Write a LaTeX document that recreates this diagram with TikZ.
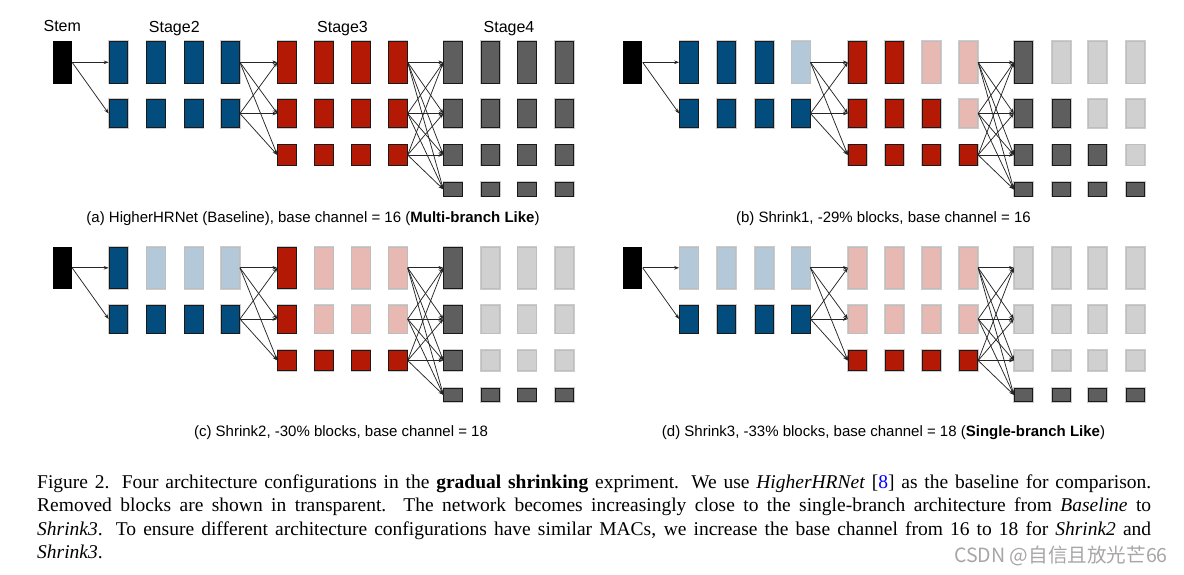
\documentclass[tikz,border=0pt]{standalone}
\usepackage{fontspec}
\setmainfont{Liberation Serif}
\setsansfont{Liberation Sans}
\newfontfamily\cjkfont{Noto Sans CJK SC}
\usetikzlibrary{arrows.meta}
\usetikzlibrary{positioning}
\definecolor{hrblue}{RGB}{2,76,126}
\definecolor{hrbluefade}{RGB}{179,200,217}
\definecolor{hrred}{RGB}{179,25,4}
\definecolor{hrredfade}{RGB}{232,184,179}
\definecolor{hrgray}{RGB}{94,94,94}
\definecolor{hrgrayfade}{RGB}{208,208,208}
\definecolor{edgedark}{RGB}{25,25,25}
\definecolor{edgefade}{RGB}{190,190,190}
\def\RowY{{62.3,113.5,155,189.4}}
\def\RowH{{41.6,28.1,20.4,13.8}}
\def\StageTwoCols{118.3,156,194,230.3}
\def\StageThreeCols{287,324,361,398}
\def\StageFourCols{453,490.7,527,564.7}
% #1 panel, #2 stage, #3 colour, #4 kept blocks per row, #5 columns
\def\DrawStage#1#2#3#4#5{%
  \foreach \nsolid [count=\row] in {#4}{%
    \pgfmathsetmacro\yc{\RowY[\row-1]}%
    \pgfmathsetmacro\hh{\RowH[\row-1]}%
    \foreach \xc [count=\col] in #5{%
      \ifnum\col>\nsolid\relax\def\fc{#3fade}\def\dc{edgefade}\else\def\fc{#3}\def\dc{edgedark}\fi
      \node [blocknode,fill=\fc,draw=\dc,minimum height=\hh] (#1-#2-\row-\col) at (\xc,\yc) {};
    }%
  }%
}
% #1 panel, #2 shift, #3 #4 #5 kept blocks of stage 2, 3, 4
\def\DrawPanel#1#2#3#4#5{%
  \begin{scope}[shift={#2}]
  \node [stemnode] (#1-stem) at (62.3,62.3) {};
  \DrawStage{#1}{2}{hrblue}{#3}{\StageTwoCols}
  \DrawStage{#1}{3}{hrred}{#4}{\StageThreeCols}
  \DrawStage{#1}{4}{hrgray}{#5}{\StageFourCols}
  \foreach \i in {1,2} \draw [link] (#1-stem.east) -- (#1-2-\i-1.west);
  \foreach \i in {1,2} \foreach \j in {1,2,3}
    \draw [link] (#1-2-\i-4.east) -- (#1-3-\j-1.west);
  \foreach \i in {1,2,3} \foreach \j in {1,...,4}
    \draw [link] (#1-3-\i-4.east) -- (#1-4-\j-1.west);
  \end{scope}%
}

\begin{document}
\begin{tikzpicture}
[x=1pt,y=-1pt,
blocknode/.style={rectangle,inner sep=0pt,minimum width=18.4,line width=0.9pt,
preaction={draw=black!20,line width=2.2pt}},
stemnode/.style={rectangle,inner sep=0pt,fill=black,minimum width=19.3,minimum height=42.5},
link/.style={-{Stealth[length=5pt,width=3.6pt]},line width=0.75pt,draw=black!85},
stagelabel/.style={anchor=base,inner sep=0pt,font=\sffamily\fontsize{16}{19}\selectfont},
panelcaption/.style={anchor=base,inner sep=0pt,font=\sffamily\fontsize{15}{18}\selectfont},
figcaption/.style={anchor=north west,inner sep=0pt,text width=1114pt,align=justify,
font=\fontsize{19.5}{23.4}\selectfont},
watermark/.style={anchor=base east,inner sep=0pt,text=black!35,
font=\cjkfont\fontsize{19.6}{22}\selectfont}
]
\useasboundingbox (0,0) rectangle (1184,574);
\DrawPanel{a}{(0,0)}{4,4}{4,4,4}{4,4,4,4}
\DrawPanel{b}{(570.5,0)}{3,4}{2,3,4}{1,2,3,4}
\DrawPanel{c}{(0,205.5)}{1,4}{1,1,4}{1,1,1,4}
\DrawPanel{d}{(570.5,205.5)}{0,4}{0,0,4}{0,0,0,4}
% stage names over panel (a)
\node [stagelabel,above=9pt of a-stem.north,anchor=base] (stem-label) {Stem};
\node [stagelabel] (stage2-label) at (174.3,32) {Stage2};
\node [stagelabel] (stage3-label) at (342.5,32) {Stage3};
\node [stagelabel] (stage4-label) at (509,32) {Stage4};
% sub-captions
\node [panelcaption] (caption-a) at (313,222.5)
{(a) HigherHRNet (Baseline), base channel = 16 (\textbf{Multi-branch Like})};
\node [panelcaption] (caption-b) at (883.5,222.5)
{(b) Shrink1, -29\% blocks, base channel = 16};
\node [panelcaption] (caption-c) at (341,436.5)
{(c) Shrink2, -30\% blocks, base channel = 18};
\node [panelcaption] (caption-d) at (883.5,436.5)
{(d) Shrink3, -33\% blocks, base channel = 18 (\textbf{Single-branch Like})};
\node [figcaption] (figure-caption) at (37,474.5)
{Figure 2. Four architecture configurations in the \textbf{gradual shrinking} expriment. We use \textit{HigherHRNet} [\textcolor{blue}{8}] as the baseline for comparison.\linebreak
Removed blocks are shown in transparent. The network becomes increasingly close to the single-branch architecture from \textit{Baseline} to\linebreak
\textit{Shrink3}. To ensure different architecture configurations have similar MACs, we increase the base channel from 16 to 18 for \textit{Shrink2} and\linebreak
\textit{Shrink3}.};
\node [watermark] (csdn-mark) at (1168,562) {CSDN @自信且放光芒66};
\end{tikzpicture}
\end{document}
